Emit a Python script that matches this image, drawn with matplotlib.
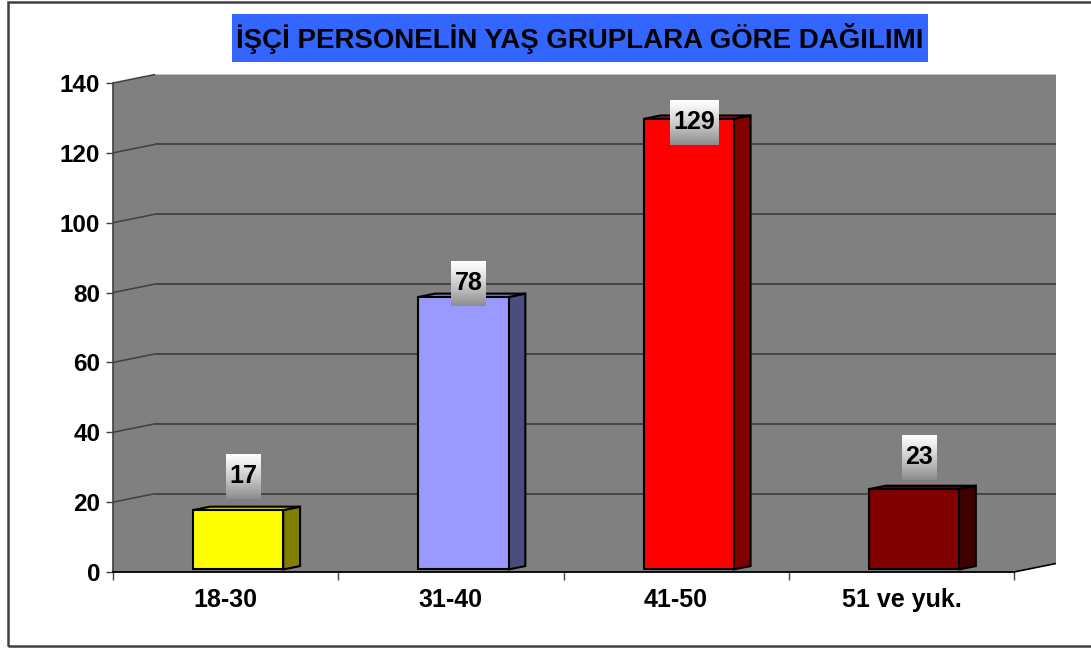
"""Bar chart of worker staff by age group, drawn with a faux 3D look."""

import matplotlib
matplotlib.use("Agg")
import matplotlib.pyplot as plt
import numpy as np
from matplotlib import font_manager
from matplotlib.patches import Polygon, Rectangle

# data
title = "İŞÇİ PERSONELİN YAŞ GRUPLARA GÖRE DAĞILIMI"
categories = ["18-30", "31-40", "41-50", "51 ve yuk."]
counts = [17, 78, 129, 23]
y_ticks = [0, 20, 40, 60, 80, 100, 120, 140]

# styles
face_colors = ["#FFFF00", "#9999FF", "#FF0000", "#800000"]
side_colors = ["#808000", "#4C4C80", "#800000", "#400000"]
top_colors = ["#CCCC00", "#7A7ACC", "#CC0000", "#600000"]
wall_color = "#808080"
line_color = "#404040"

W, H = 1091, 648
DX, DY = 42, 8.5  # depth offset of the back wall, in pixels

plt.rcParams["font.family"] = ["Liberation Sans", "DejaVu Sans"]
plt.rcParams["font.weight"] = "bold"

fig = plt.figure(figsize=(W / 100, H / 100), dpi=100)
fig.patch.set_facecolor("white")

ax = fig.add_axes([113 / W, 1 - 572 / H, 901 / W, 489 / H])
ax.set_xlim(-0.5, len(categories) - 0.5)
ax.set_ylim(y_ticks[0], y_ticks[-1])
ax.patch.set_visible(False)
ax.set_autoscale_on(False)

to_fig = fig.transFigure.inverted()


def pt(x, v, d):
    px, py = ax.transData.transform((x, v))
    return to_fig.transform((px + d * DX, py + d * DY))


def poly(points, **kw):
    p = Polygon(points, closed=True, transform=fig.transFigure, clip_on=False, **kw)
    ax.add_artist(p)


def seg(a, b, **kw):
    ax.plot([a[0], b[0]], [a[1], b[1]], transform=fig.transFigure,
            clip_on=False, solid_capstyle="butt", **kw)


x0, x1 = -0.5, len(categories) - 0.5
ymin, ymax = y_ticks[0], y_ticks[-1]

# walls and floor
poly([pt(x0, ymin, 0), pt(x0, ymax, 0), pt(x0, ymax, 1), pt(x1, ymax, 1),
      pt(x1, ymin, 1), pt(x1, ymin, 0)], facecolor=wall_color, edgecolor="none", zorder=0)

for v in y_ticks[1:]:
    seg(pt(x0, v, 0), pt(x0, v, 1), color=line_color, lw=1.1, zorder=1)
    if v < ymax:
        seg(pt(x0, v, 1), pt(x1, v, 1), color=line_color, lw=1.3, zorder=1)
seg(pt(x1, ymin, 0), pt(x1, ymin, 1), color="black", lw=1.2, zorder=1)

# bars
hw, d0, d1 = 0.2, 0.3, 0.7
for i, v in enumerate(counts):
    l, r = i - hw, i + hw
    kw = dict(edgecolor="black", lw=1.5, joinstyle="miter", zorder=3)
    poly([pt(r, 0, d0), pt(r, 0, d1), pt(r, v, d1), pt(r, v, d0)],
         facecolor=side_colors[i], **kw)
    poly([pt(l, v, d0), pt(r, v, d0), pt(r, v, d1), pt(l, v, d1)],
         facecolor=top_colors[i], **kw)
    poly([pt(l, 0, d0), pt(r, 0, d0), pt(r, v, d0), pt(l, v, d0)],
         facecolor=face_colors[i], **kw)

# axes lines and ticks
for s in ["top", "right"]:
    ax.spines[s].set_visible(False)
ax.spines["left"].set_color(line_color)
ax.spines["left"].set_linewidth(1.2)
ax.spines["bottom"].set_color("black")
ax.spines["bottom"].set_linewidth(1.3)

ax.set_yticks(y_ticks)
ax.set_yticklabels([str(t) for t in y_ticks])
ax.tick_params(axis="y", direction="out", length=5, width=1, color=line_color,
               pad=4.2, labelsize=17.5)

ax.set_xticks(np.arange(len(categories) + 1) - 0.5)
ax.set_xticklabels([])
ax.set_xticks(np.arange(len(categories)), minor=True)
ax.set_xticklabels(categories, minor=True)
ax.tick_params(axis="x", which="major", direction="out", length=6, width=1,
               color=line_color)
ax.tick_params(axis="x", which="minor", length=0, pad=11.5, labelsize=18)

# data labels with gradient boxes
gv = np.linspace(0, 1, 64)
grad = (1 - 0.45 * gv ** 1.2)[:, None]
for i, v in enumerate(counts):
    cx, cy = ax.transData.transform((i, v))
    cx += 18
    cy += 41.5 - 0.33 * v
    w = 7 + 14 * len(str(v))
    h = 45
    lax = fig.add_axes([(cx - w / 2) / W, (cy - h / 2) / H, w / W, h / H])
    lax.imshow(grad, aspect="auto", cmap="gray", vmin=0, vmax=1,
               extent=[0, 1, 0, 1], interpolation="bilinear")
    lax.set_xlim(0, 1)
    lax.set_ylim(0, 1)
    lax.axis("off")
    lax.text(0.5, 0.36, str(v), ha="center", va="baseline", fontsize=18,
             fontweight="bold", color="black")

# title box
fig.add_artist(Rectangle((232 / W, 1 - 62 / H), (928 - 232) / W, 48 / H,
                         transform=fig.transFigure, facecolor="#3366FF",
                         edgecolor="none"))
try:
    font_manager.findfont(font_manager.FontProperties(family="Liberation Sans Narrow",
                                                      weight="bold"),
                          fallback_to_default=False)
    title_family = ["Liberation Sans Narrow", "DejaVu Sans"]
except ValueError:
    title_family = ["Liberation Sans", "DejaVu Sans"]
t = fig.text(580 / W, 1 - 48 / H, title, ha="center", va="baseline",
             fontsize=20, fontweight="bold", family=title_family, color="black")
renderer = fig.canvas.get_renderer()
tw = t.get_window_extent(renderer).width
t.set_fontsize(20 * min(1.15, 688 / tw))

# outer border (right edge lies past the picture)
fig.add_artist(Rectangle((8 / W, 1 - 645.5 / H), 1.1, 644 / H,
                         transform=fig.transFigure, fill=False,
                         edgecolor=line_color, lw=1.8))

fig.savefig("out.png", dpi=100)
